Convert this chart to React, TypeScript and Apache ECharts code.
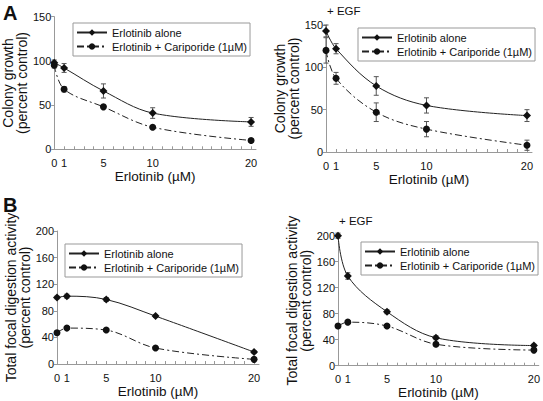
import React, { useEffect, useRef } from "react";
import * as echarts from "echarts";

const doses = [0, 1, 5, 10, 20];
const doseLabels = [0, 1, 5, 10, 20];

const aLeftAlone = [98, 92, 66, 41, 31];
const aLeftAloneErr = [3, 5, 8, 6, 5];
const aLeftCombo = [95, 68, 48, 25, 10];
const aLeftComboErr = [3, 3, 2, 2, 2];

const aRightAlone = [143, 122, 78, 55, 43];
const aRightAloneErr = [7, 6, 11, 9, 7];
const aRightCombo = [120, 87, 47, 27, 8];
const aRightComboErr = [15, 7, 11, 9, 6];

const bLeftAlone = [100, 102, 97, 72, 18];
const bLeftAloneErr = [2, 3, 3, 2, 2];
const bLeftCombo = [47, 54, 51, 24, 7];
const bLeftComboErr = [3, 2, 2, 2, 2];

const bRightAlone = [200, 138, 83, 43, 31];
const bRightAloneErr = [4, 5, 3, 3, 2];
const bRightCombo = [61, 67, 61, 33, 24];
const bRightComboErr = [3, 2, 2, 3, 2];

const NAME_ALONE = "Erlotinib alone";
const NAME_COMBO = "Erlotinib + Cariporide (1µM)";
const FONT = "'Liberation Sans', Arial, sans-serif";

const grids = [
  { left: 52, top: 16.7, width: 204, height: 132.6 },
  { left: 326, top: 25, width: 206, height: 127 },
  { left: 57, top: 231, width: 202, height: 133 },
  { left: 338, top: 235.7, width: 202, height: 130 },
];

const yMax = [150, 150, 200, 200];
const yInt = [50, 50, 40, 40];
const yNames = [
  "Colony growth\n(percent control)",
  "Colony growth\n(percent control)",
  "Total focal digestion activity\n(percent control)",
  "Total focal digestion activity\n(percent control)",
];

const panels = [
  [aLeftAlone, aLeftAloneErr, aLeftCombo, aLeftComboErr],
  [aRightAlone, aRightAloneErr, aRightCombo, aRightComboErr],
  [bLeftAlone, bLeftAloneErr, bLeftCombo, bLeftComboErr],
  [bRightAlone, bRightAloneErr, bRightCombo, bRightComboErr],
];

const legendPos = [
  { left: 73, top: 23 },
  { left: 358, top: 28 },
  { left: 65, top: 244 },
  { left: 361, top: 242 },
];

const tickValues = Array.from({ length: 21 }, (_, i) => i);

function errRender(params: any, api: any) {
  const x = api.value(0);
  const lo = api.value(1);
  const hi = api.value(2);
  const p1 = api.coord([x, lo]);
  const p2 = api.coord([x, hi]);
  const w = 2.5;
  const style = { stroke: "#555", lineWidth: 1 };
  return {
    type: "group",
    children: [
      { type: "line", shape: { x1: p1[0], y1: p1[1], x2: p2[0], y2: p2[1] }, style },
      { type: "line", shape: { x1: p1[0] - w, y1: p1[1], x2: p1[0] + w, y2: p1[1] }, style },
      { type: "line", shape: { x1: p2[0] - w, y1: p2[1], x2: p2[0] + w, y2: p2[1] }, style },
    ],
  };
}

export default function App() {
  const ref = useRef<HTMLDivElement>(null);
  useEffect(() => {
    if (!ref.current) return;
    const chart = echarts.init(ref.current, undefined, { renderer: "svg" });
    const xAxis: any[] = [];
    const yAxis: any[] = [];
    const series: any[] = [];
    const legend: any[] = [];
    grids.forEach((g, i) => {
      xAxis.push({
        type: "value",
        gridIndex: i,
        min: 0,
        max: 20.5,
        name: "Erlotinib (µM)",
        nameLocation: "middle",
        nameGap: 20,
        nameTextStyle: { fontSize: 13.5, color: "#111", fontFamily: FONT },
        axisLine: { lineStyle: { color: "#999", width: 1 } },
        axisTick: {
          show: true,
          inside: true,
          length: 3,
          customValues: tickValues,
          lineStyle: { color: "#999" },
        },
        axisLabel: {
          customValues: doseLabels,
          fontSize: 11,
          color: "#111",
          margin: 8,
          fontFamily: FONT,
        },
        splitLine: { show: false },
      });
      yAxis.push({
        type: "value",
        gridIndex: i,
        min: 0,
        max: yMax[i],
        interval: yInt[i],
        name: yNames[i],
        nameLocation: "middle",
        nameRotate: 90,
        nameGap: 23,
        nameTextStyle: { fontSize: 14, color: "#111", lineHeight: 14, fontFamily: FONT },
        axisLine: { show: true, lineStyle: { color: "#999", width: 1 } },
        axisTick: { show: true, length: 3, lineStyle: { color: "#999" } },
        axisLabel: { fontSize: 11, color: "#111", margin: 3, fontFamily: FONT },
        splitLine: { show: false },
      });
      const [alone, aloneErr, combo, comboErr] = panels[i];
      series.push({
        type: "custom",
        name: "errAlone" + i,
        xAxisIndex: i,
        yAxisIndex: i,
        renderItem: errRender,
        data: doses.map((d, k) => [d, alone[k] - aloneErr[k], alone[k] + aloneErr[k]]),
        z: 1,
      });
      series.push({
        type: "custom",
        name: "errCombo" + i,
        xAxisIndex: i,
        yAxisIndex: i,
        renderItem: errRender,
        data: doses.map((d, k) => [d, combo[k] - comboErr[k], combo[k] + comboErr[k]]),
        z: 1,
      });
      series.push({
        type: "line",
        name: NAME_ALONE,
        xAxisIndex: i,
        yAxisIndex: i,
        smooth: 0.35,
        symbol: "diamond",
        symbolSize: 8,
        data: doses.map((d, k) => [d, alone[k]]),
        lineStyle: { color: "#222", width: 1, type: "solid" },
        itemStyle: { color: "#111" },
        z: 3,
      });
      series.push({
        type: "line",
        name: NAME_COMBO,
        xAxisIndex: i,
        yAxisIndex: i,
        smooth: 0.35,
        symbol: "circle",
        symbolSize: 7,
        data: doses.map((d, k) => [d, combo[k]]),
        lineStyle: { color: "#222", width: 1, type: [7, 3, 2, 3] },
        itemStyle: { color: "#111" },
        z: 3,
      });
      legend.push({
        orient: "vertical",
        left: legendPos[i].left,
        top: legendPos[i].top,
        data: [NAME_ALONE, NAME_COMBO],
        borderColor: "#999",
        borderWidth: 1,
        padding: [4, 3, 4, 3],
        itemGap: 3,
        itemWidth: 30,
        itemHeight: 8,
        selectedMode: false,
        textStyle: { fontSize: 11, color: "#111", fontFamily: FONT },
      });
    });
    chart.setOption({
      animation: false,
      backgroundColor: "#fff",
      grid: grids.map((g) => ({ ...g, containLabel: false })),
      xAxis,
      yAxis,
      series,
      legend,
      graphic: [
        { type: "text", left: 3, top: 3, style: { text: "A", fontSize: 20, fontWeight: "bold", fill: "#111", fontFamily: FONT } },
        { type: "text", left: 3, top: 195, style: { text: "B", fontSize: 20, fontWeight: "bold", fill: "#111", fontFamily: FONT } },
        { type: "text", left: 327, top: 5, style: { text: "+ EGF", fontSize: 11.5, fill: "#111", fontFamily: FONT } },
        { type: "text", left: 339, top: 215, style: { text: "+ EGF", fontSize: 11.5, fill: "#111", fontFamily: FONT } },
      ],
    });
    return () => chart.dispose();
  }, []);
  return (
    <div
      ref={ref}
      style={{ position: "fixed", left: 0, top: 0, width: 543, height: 401, background: "#fff" }}
    />
  );
}
